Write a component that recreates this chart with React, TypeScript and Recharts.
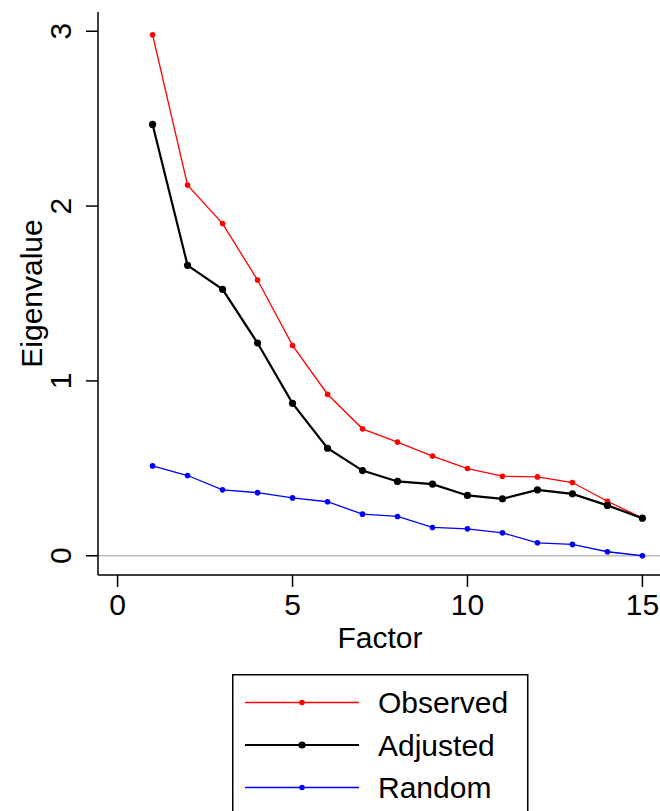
import React from 'react';
import { LineChart, Line, XAxis, YAxis, ReferenceLine, Legend } from 'recharts';

const factors = [1, 2, 3, 4, 5, 6, 7, 8, 9, 10, 11, 12, 13, 14, 15];
const observed = [2.98, 2.12, 1.9, 1.577, 1.203, 0.924, 0.726, 0.65, 0.57, 0.499, 0.455, 0.451, 0.419, 0.312, 0.215];
const adjusted = [2.467, 1.661, 1.524, 1.217, 0.872, 0.615, 0.487, 0.425, 0.41, 0.345, 0.326, 0.377, 0.354, 0.288, 0.215];
const random = [0.514, 0.459, 0.377, 0.361, 0.331, 0.309, 0.238, 0.225, 0.162, 0.154, 0.131, 0.074, 0.065, 0.023, 0.0];
const xTicks = [0, 5, 10, 15];
const yTicks = [0, 1, 2, 3];
const seriesNames = ['Observed', 'Adjusted', 'Random'];

const data = factors.map((f, i) => ({
  factor: f,
  Observed: observed[i],
  Adjusted: adjusted[i],
  Random: random[i],
}));

const FONT = '"Liberation Sans", Arial, Helvetica, sans-serif';
const FS = 30;

const styles: Record<string, { color: string; width: number; r: number }> = {
  Observed: { color: '#ff0000', width: 1.3, r: 2.8 },
  Adjusted: { color: '#000000', width: 2.2, r: 3.6 },
  Random: { color: '#0000ff', width: 1.3, r: 2.8 },
};

const YTick = (props: any) => {
  const { x, y, payload } = props;
  return (
    <text
      x={x}
      y={y}
      transform={`rotate(-90, ${x}, ${y})`}
      textAnchor="middle"
      fontSize={FS}
      fontFamily={FONT}
      fill="#000"
    >
      {payload.value}
    </text>
  );
};

const YLabel = (props: any) => {
  const vb = props.viewBox || {};
  const cx = (vb.x || 0) + 42;
  const cy = (vb.y || 0) + (vb.height || 0) / 2;
  return (
    <text
      x={cx}
      y={cy}
      transform={`rotate(-90, ${cx}, ${cy})`}
      textAnchor="middle"
      fontSize={FS}
      fontFamily={FONT}
      fill="#000"
    >
      Eigenvalue
    </text>
  );
};

const LegendBox = () => {
  const rowH = 42.5;
  return (
    <svg width={300} height={160} style={{ overflow: 'visible', display: 'block' }}>
      <rect x={0.75} y={0.75} width={295} height={200} fill="#fff" stroke="#000" strokeWidth={1.5} />
      {seriesNames.map((n, i) => {
        const s = styles[n];
        const y = 28.5 + i * rowH;
        return (
          <g key={n}>
            <line x1={13} x2={127} y1={y} y2={y} stroke={s.color} strokeWidth={s.width} />
            <circle cx={70} cy={y} r={s.r} fill={s.color} />
            <text x={146} y={y + 10.8} fontSize={FS} fontFamily={FONT} fill="#000">
              {n}
            </text>
          </g>
        );
      })}
    </svg>
  );
};

export default function App() {
  return (
    <div style={{ position: 'absolute', left: 0, top: 0, width: 660, height: 811, overflow: 'hidden', background: '#fff' }}>
      <LineChart
        width={700}
        height={811}
        data={data}
        margin={{ top: 12, right: 38, left: 0, bottom: 0 }}
        style={{ fontFamily: FONT }}
      >
        <XAxis
          xAxisId="top"
          orientation="top"
          dataKey="factor"
          type="number"
          domain={[-0.56, 15.56]}
          allowDataOverflow
          tick={false}
          tickLine={false}
          height={0}
          axisLine={{ stroke: '#000', strokeWidth: 1.5 }}
        />
        <XAxis
          dataKey="factor"
          type="number"
          domain={[-0.56, 15.56]}
          allowDataOverflow
          ticks={xTicks}
          interval={0}
          height={236}
          tickSize={12}
          tickMargin={7}
          axisLine={{ stroke: '#000', strokeWidth: 1.5 }}
          tickLine={{ stroke: '#000', strokeWidth: 1.5 }}
          tick={{ fill: '#000', fontSize: FS, fontFamily: FONT }}
          label={{ value: 'Factor', position: 'insideTop', offset: 52, fontSize: FS, fontFamily: FONT, fill: '#000' }}
        />
        <YAxis
          type="number"
          domain={[-0.11, 3.11]}
          allowDataOverflow
          ticks={yTicks}
          interval={0}
          width={98}
          tickSize={12}
          tickMargin={15}
          axisLine={{ stroke: '#000', strokeWidth: 1.5 }}
          tickLine={{ stroke: '#000', strokeWidth: 1.5 }}
          tick={<YTick />}
          label={<YLabel />}
        />
        <ReferenceLine y={0} stroke="#bebebe" strokeWidth={1.5} />
        {seriesNames.map((n) => (
          <Line
            key={n}
            dataKey={n}
            type="linear"
            stroke={styles[n].color}
            strokeWidth={styles[n].width}
            dot={{ r: styles[n].r, fill: styles[n].color, stroke: 'none' }}
            activeDot={false}
            isAnimationActive={false}
            legendType="none"
          />
        ))}
        <Legend
          layout="horizontal"
          verticalAlign="middle"
          align="center"
          content={<LegendBox />}
          wrapperStyle={{ left: 232, top: 674, width: 300, height: 160 }}
        />
      </LineChart>
    </div>
  );
}
